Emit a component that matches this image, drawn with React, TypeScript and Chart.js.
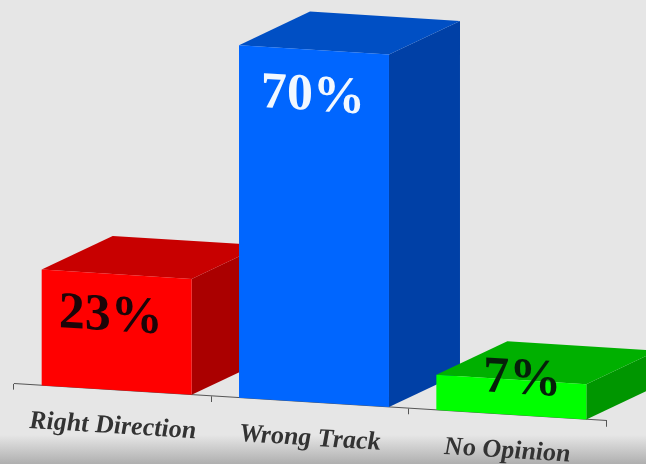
import React, { useEffect, useRef } from "react";
import { Chart, registerables } from "chart.js";

Chart.register(...registerables);

const categories = ["Right Direction", "Wrong Track", "No Opinion"];
const values = [23, 70, 7];
const valueLabels = ["23%", "70%", "7%"];

const frontColors = ["#ff0000", "#0066ff", "#00ff00"];
const topColors = ["#c80000", "#004fc4", "#00b000"];
const sideColors = ["#aa0000", "#0040a6", "#009600"];
const labelColors = ["#1c0508", "#f2f8ff", "#06200a"];

const SKEW = 0.0625;
const DEPTH_X = 71;
const DEPTH_Y = 38;
const BAR_SHIFT = 4;
const LABEL_NUDGE = [
  [-6, 43],
  [-1, 47],
  [11, 0],
];

const scene = {
  id: "scene3d",
  beforeDraw(chart: any) {
    const { ctx, width, height } = chart;
    ctx.save();
    ctx.fillStyle = "#e6e6e6";
    ctx.fillRect(0, 0, width, height);
    const g = ctx.createLinearGradient(0, 435, 0, height);
    g.addColorStop(0, "rgba(120,120,120,0)");
    g.addColorStop(1, "rgba(120,120,120,0.5)");
    ctx.fillStyle = g;
    ctx.fillRect(0, 435, width, height - 435);
    ctx.restore();
    ctx.save();
    ctx.transform(1, SKEW, 0, 1, 0, 0);
  },
  beforeDatasetsDraw(chart: any) {
    const { ctx } = chart;
    const bars = chart.getDatasetMeta(0).data;
    ctx.save();
    ctx.translate(BAR_SHIFT, 0);
    bars.forEach((bar: any, i: number) => {
      const l = bar.x - bar.width / 2;
      const r = bar.x + bar.width / 2;
      const t = bar.y;
      const b = bar.base;
      ctx.fillStyle = sideColors[i];
      ctx.beginPath();
      ctx.moveTo(r, t);
      ctx.lineTo(r + DEPTH_X, t - DEPTH_Y);
      ctx.lineTo(r + DEPTH_X, b - DEPTH_Y);
      ctx.lineTo(r, b);
      ctx.closePath();
      ctx.fill();
      ctx.fillStyle = topColors[i];
      ctx.beginPath();
      ctx.moveTo(l, t);
      ctx.lineTo(l + DEPTH_X, t - DEPTH_Y);
      ctx.lineTo(r + DEPTH_X, t - DEPTH_Y);
      ctx.lineTo(r, t);
      ctx.closePath();
      ctx.fill();
    });
  },
  afterDatasetsDraw(chart: any) {
    const { ctx } = chart;
    const bars = chart.getDatasetMeta(0).data;
    ctx.font = "bold 52px 'Liberation Serif'";
    ctx.textAlign = "center";
    ctx.textBaseline = "middle";
    bars.forEach((bar: any, i: number) => {
      ctx.fillStyle = labelColors[i];
      ctx.fillText(valueLabels[i], bar.x + LABEL_NUDGE[i][0], bar.y + LABEL_NUDGE[i][1]);
    });
    ctx.restore();
  },
  afterDraw(chart: any) {
    chart.ctx.restore();
  },
};

export default function App() {
  const ref = useRef<HTMLCanvasElement>(null);
  useEffect(() => {
    document.body.style.margin = "0";
    const chart = new Chart(ref.current!, {
      type: "bar",
      data: {
        labels: categories,
        datasets: [
          {
            data: values,
            backgroundColor: frontColors,
            barPercentage: 0.76,
            categoryPercentage: 1,
            clip: false,
          } as any,
        ],
      },
      options: {
        animation: false,
        responsive: false,
        layout: { padding: { left: 14, right: 40, top: 5, bottom: 14 } },
        plugins: { legend: { display: false }, tooltip: { enabled: false } },
        scales: {
          y: { display: false, min: 0, max: 75 },
          x: {
            border: { display: true, color: "#555555", width: 1 },
            grid: { display: true, drawOnChartArea: false, drawTicks: true, tickLength: 6, color: "#555555" },
            ticks: {
              color: "#333333",
              padding: 15,
              maxRotation: 0,
              font: { family: "'Liberation Serif'", size: 26, weight: "bold", style: "italic" },
            },
          },
        },
      },
      plugins: [scene],
    });
    return () => chart.destroy();
  }, []);
  return <canvas ref={ref} width={646} height={464} style={{ display: "block", filter: "blur(0.6px)" }} />;
}
